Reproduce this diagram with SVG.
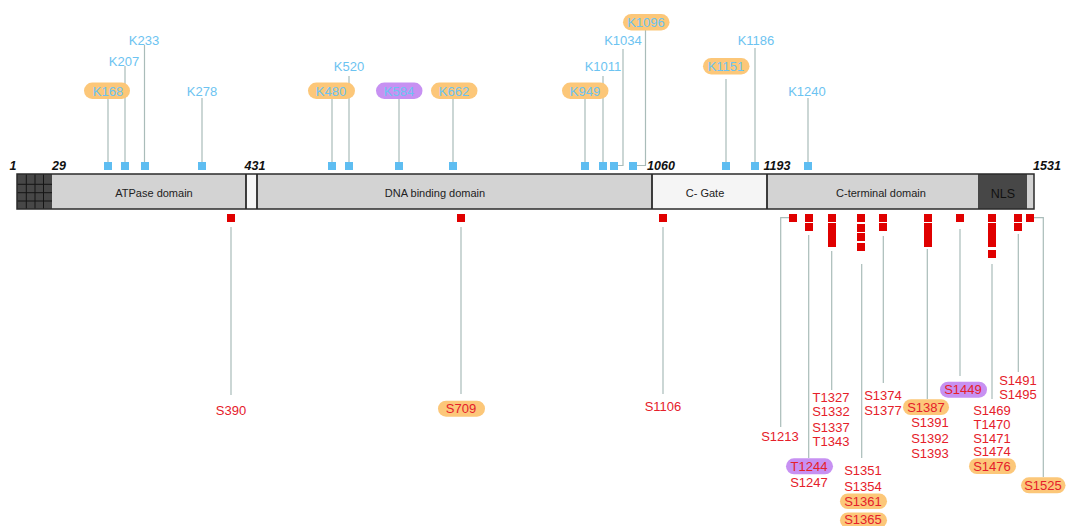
<svg xmlns="http://www.w3.org/2000/svg" width="1066" height="526" viewBox="0 0 1066 526">
<style>
text{font-family:"Liberation Sans",Arial,sans-serif}
.kt{font-size:13px;fill:#6cc3f1;text-anchor:middle}
.st{font-size:13px;fill:#e5202a;text-anchor:middle}
.po{fill:#fcc779}
.pp{fill:#c791f2}
.bs{fill:#5ebdf1}
.rs{fill:#e00000}
.ln{stroke:#a9bcb9;stroke-width:1.2;fill:none}
.num{font-size:12.5px;font-weight:bold;font-style:italic;fill:#111;text-anchor:middle}
.dom{font-size:11px;fill:#222;text-anchor:middle}
.gl{stroke:#151515;stroke-width:1}
</style>
<rect width="1066" height="526" fill="#fff"/>

<g id="protein-bar">
<rect x="17" y="174" width="1017" height="35" fill="#d3d3d3"/>
<rect x="17" y="174" width="35" height="35" fill="#474747"/>
<path class="gl" d="M26.3 174V209M35 174V209M43.5 174V209M17 184.3H52M17 192.7H52M17 201H52"/>
<rect x="246" y="174" width="11" height="35" fill="#f7f7f7"/>
<rect x="652" y="174" width="115" height="35" fill="#f5f5f5"/>
<rect x="978" y="174" width="49" height="35" fill="#474747"/>
<path d="M246 174V209M257 174V209M652 174V209M767 174V209" stroke="#2b2b2b" stroke-width="1.8"/>
<rect x="17" y="174" width="1017" height="35" fill="none" stroke="#2b2b2b" stroke-width="1.5"/>
<text class="dom" x="154" y="197">ATPase domain</text>
<text class="dom" x="435" y="197">DNA binding domain</text>
<text class="dom" x="705" y="197">C- Gate</text>
<text class="dom" x="881" y="197">C-terminal domain</text>
<text class="dom" x="1003" y="198" style="font-size:12.5px;fill:#111">NLS</text>
<text class="num" x="13" y="170">1</text>
<text class="num" x="59" y="170">29</text>
<text class="num" x="255" y="170">431</text>
<text class="num" x="661" y="170">1060</text>
<text class="num" x="777" y="170">1193</text>
<text class="num" x="1047" y="170">1531</text>
</g>

<g id="connectors">
<path class="ln" d="M108 99V162M125 66V162M144.5 45V162M202 98V162M332 99V162M349 76V162M399 99V162M453 99V162M585 99V162M603 76V162"/>
<path class="ln" d="M623 49V165.5H617.5M645.5 30V165.5H637"/>
<path class="ln" d="M726 79V162M755 48V162M808 98V162"/>
<path class="ln" d="M231 227V395M461 227V394M663 227V394"/>
<path class="ln" d="M789 217.7H780.7V427M808.7 235V458M831.7 251V390M861.7 264V458M883.3 236V383M927.3 249V399M960 229V376M992 264V399M1018.3 234V372M1034 217.7H1043.3V477"/>
</g>

<g id="K168"><rect class="bs" x="104" y="162" width="8" height="8"/><rect class="po" x="84" y="82.5" width="46" height="16.5" rx="8.25"/><text class="kt" x="108" y="95.6">K168</text></g>
<g id="K207"><rect class="bs" x="121" y="162" width="8" height="8"/><text class="kt" x="124" y="66.4">K207</text></g>
<g id="K233"><rect class="bs" x="141" y="162" width="8" height="8"/><text class="kt" x="144" y="44.6">K233</text></g>
<g id="K278"><rect class="bs" x="198" y="162" width="8" height="8"/><text class="kt" x="202" y="95.6">K278</text></g>
<g id="K480"><rect class="bs" x="328" y="162" width="8" height="8"/><rect class="po" x="308" y="82.5" width="47" height="16.5" rx="8.25"/><text class="kt" x="331" y="95.6">K480</text></g>
<g id="K520"><rect class="bs" x="345" y="162" width="8" height="8"/><text class="kt" x="349" y="71.4">K520</text></g>
<g id="K584"><rect class="bs" x="395" y="162" width="8" height="8"/><rect class="pp" x="376" y="82.5" width="46.5" height="16.5" rx="8.25"/><text class="kt" x="399" y="95.6">K584</text></g>
<g id="K662"><rect class="bs" x="449" y="162" width="8" height="8"/><rect class="po" x="431" y="82.5" width="46.5" height="16.5" rx="8.25"/><text class="kt" x="454" y="95.6">K662</text></g>
<g id="K949"><rect class="bs" x="581" y="162" width="8" height="8"/><rect class="po" x="562" y="82.5" width="46.5" height="16.5" rx="8.25"/><text class="kt" x="585" y="95.6">K949</text></g>
<g id="K1011"><rect class="bs" x="599" y="162" width="8" height="8"/><text class="kt" x="603" y="71.4">K1011</text></g>
<g id="K1034"><rect class="bs" x="610" y="162" width="8" height="8"/><text class="kt" x="623" y="44.6">K1034</text></g>
<g id="K1096"><rect class="bs" x="629" y="162" width="8" height="8"/><rect class="po" x="623" y="14" width="46.5" height="16.5" rx="8.25"/><text class="kt" x="646" y="26.8">K1096</text></g>
<g id="K1151"><rect class="bs" x="722" y="162" width="8" height="8"/><rect class="po" x="703" y="58" width="46.5" height="16.5" rx="8.25"/><text class="kt" x="726" y="71.4">K1151</text></g>
<g id="K1186"><rect class="bs" x="751" y="162" width="8" height="8"/><text class="kt" x="756" y="44.6">K1186</text></g>
<g id="K1240"><rect class="bs" x="804" y="162" width="8" height="8"/><text class="kt" x="807" y="95.6">K1240</text></g>

<g id="S390"><rect class="rs" x="227" y="214" width="8" height="8"/><text class="st" x="231" y="414.6">S390</text></g>
<g id="S709"><rect class="rs" x="457" y="214" width="8" height="8"/><rect class="po" x="438" y="400.7" width="47" height="16" rx="8"/><text class="st" x="461" y="413.4">S709</text></g>
<g id="S1106"><rect class="rs" x="659" y="214" width="8" height="8"/><text class="st" x="663" y="410.6">S1106</text></g>

<g id="S1213"><rect class="rs" x="789" y="214" width="8" height="8"/><text class="st" x="780" y="441.4">S1213</text></g>
<g id="T1244-S1247"><rect class="rs" x="805" y="214" width="8" height="8"/><rect class="rs" x="805" y="223" width="8" height="8"/>
<rect class="pp" x="786" y="458.3" width="47" height="16" rx="8"/><text class="st" x="809" y="470.6">T1244</text><text class="st" x="809" y="487.3">S1247</text></g>
<g id="T1327-T1343"><rect class="rs" x="828" y="214" width="8" height="8"/><rect class="rs" x="828" y="223" width="8" height="24"/>
<text class="st" x="831" y="401.9">T1327</text><text class="st" x="831" y="416.3">S1332</text><text class="st" x="831" y="431.9">S1337</text><text class="st" x="831" y="446.3">T1343</text></g>
<g id="S1351-S1365"><rect class="rs" x="857" y="214" width="8" height="8"/><rect class="rs" x="857" y="224" width="8" height="8"/><rect class="rs" x="857" y="233" width="8" height="8"/><rect class="rs" x="857" y="243" width="8" height="8"/>
<text class="st" x="863" y="474.6">S1351</text><text class="st" x="863" y="490.6">S1354</text>
<rect class="po" x="840" y="493.5" width="47" height="15.5" rx="7.75"/><text class="st" x="863" y="505.8">S1361</text>
<rect class="po" x="840" y="512.5" width="47" height="15.5" rx="7.75"/><text class="st" x="863" y="524.2">S1365</text></g>
<g id="S1374-S1377"><rect class="rs" x="879" y="214" width="8" height="8"/><rect class="rs" x="879" y="223" width="8" height="8"/>
<text class="st" x="883" y="399.6">S1374</text><text class="st" x="883" y="414.6">S1377</text></g>
<g id="S1387-S1393"><rect class="rs" x="924" y="214" width="8" height="8"/><rect class="rs" x="924" y="223" width="8" height="24"/>
<rect class="po" x="903" y="399.3" width="46" height="15.7" rx="7.85"/><text class="st" x="926" y="411.6">S1387</text>
<text class="st" x="930" y="427.3">S1391</text><text class="st" x="930" y="442.9">S1392</text><text class="st" x="930" y="457.9">S1393</text></g>
<g id="S1449"><rect class="rs" x="956" y="214" width="8" height="8"/><rect class="pp" x="940" y="381.7" width="47" height="16" rx="8"/><text class="st" x="963" y="394.3">S1449</text></g>
<g id="S1469-S1476"><rect class="rs" x="988" y="214" width="8" height="8"/><rect class="rs" x="988" y="223" width="8" height="24"/><rect class="rs" x="988" y="250" width="8" height="8"/>
<text class="st" x="992" y="415.2">S1469</text><text class="st" x="992" y="428.9">T1470</text><text class="st" x="992" y="442.6">S1471</text><text class="st" x="992" y="456.3">S1474</text>
<rect class="po" x="969" y="458.3" width="47" height="15.7" rx="7.85"/><text class="st" x="992" y="470.6">S1476</text></g>
<g id="S1491-S1495"><rect class="rs" x="1014" y="214" width="8" height="8"/><rect class="rs" x="1014" y="223" width="8" height="8"/>
<text class="st" x="1018" y="384.6">S1491</text><text class="st" x="1018" y="399.1">S1495</text></g>
<g id="S1525"><rect class="rs" x="1026" y="214" width="8" height="8"/><rect class="po" x="1021" y="477.3" width="44.5" height="16" rx="8"/><text class="st" x="1043" y="489.6">S1525</text></g>
</svg>
